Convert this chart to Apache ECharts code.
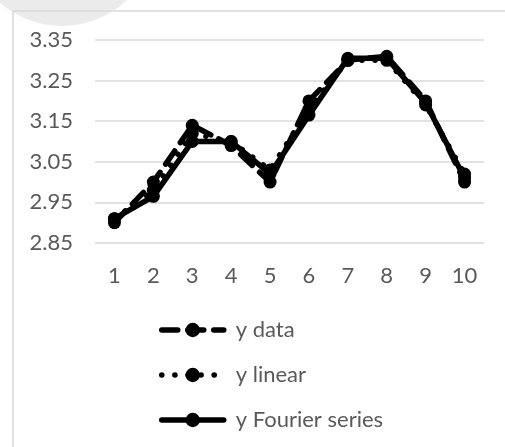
<!DOCTYPE html>
<html>
<head>
<meta charset="utf-8">
<script src="https://cdn.jsdelivr.net/npm/echarts@6/dist/echarts.min.js"></script>
<style>
html,body{margin:0;padding:0;background:#fff;}
#chart{width:505px;height:447px;}
</style>
</head>
<body>
<div id="chart"></div>
<script>
var categories = ['1','2','3','4','5','6','7','8','9','10'];
var yData    = [2.90, 3.00, 3.14, 3.09, 3.00, 3.20, 3.30, 3.31, 3.20, 3.00];
var yLinear  = [2.91, 2.98, 3.12, 3.10, 3.03, 3.18, 3.30, 3.30, 3.19, 3.02];
var yFourier = [2.91, 2.965, 3.10, 3.10, 3.02, 3.165, 3.305, 3.305, 3.195, 3.01];
var yTicks   = [2.85, 2.95, 3.05, 3.15, 3.25, 3.35];

var chart = echarts.init(document.getElementById('chart'));
var font = 'Lato';

function mkSeries(name, data, type) {
	return {
		name: name,
		type: 'line',
		data: data,
		symbol: 'circle',
		symbolSize: 13,
		itemStyle: { color: '#000' },
		lineStyle: { color: '#000', width: 5.5, type: type, cap: 'round' },
		emphasis: { disabled: true },
		animation: false
	};
}

var option = {
	backgroundColor: '#fff',
	graphic: [
		{ // grey blob top-left
			type: 'circle',
			shape: { cx: 62, cy: -68, r: 94 },
			style: { fill: '#ebebeb' },
			z: -10
		},
		{ // chart frame
			type: 'polyline',
			shape: { points: [[13, 447], [13, 11], [505, 11]] },
			style: { stroke: '#d9d9d9', lineWidth: 1.5, fill: null },
			z: -5
		}
	],
	grid: { left: 95, right: 21, top: 40, bottom: 204, containLabel: false },
	xAxis: {
		type: 'category',
		data: categories,
		boundaryGap: true,
		axisLine: { show: false },
		axisTick: { show: false },
		axisLabel: { color: '#595959', fontSize: 22, fontFamily: font, margin: 22 }
	},
	yAxis: {
		type: 'value',
		min: yTicks[0],
		max: yTicks[yTicks.length - 1],
		interval: 0.1,
		axisLine: { show: false },
		axisTick: { show: false },
		splitLine: { lineStyle: { color: '#d9d9d9', width: 1.5 } },
		axisLabel: {
			color: '#595959', fontSize: 22, fontFamily: font, margin: 22,
			formatter: function (v) { return v.toFixed(2); }
		}
	},
	legend: {
		orient: 'vertical',
		left: 154,
		top: 314,
		itemGap: 23,
		itemWidth: 62,
		itemHeight: 18,
		lineStyle: { width: 5.5, cap: 'round' },
		textStyle: { color: '#595959', fontSize: 22, fontFamily: font, padding: [0, 0, 0, 7] },
		data: ['y data', 'y linear', 'y Fourier series']
	},
	series: [
		mkSeries('y data', yData, [16, 10]),
		mkSeries('y linear', yLinear, [0.1, 13]),
		mkSeries('y Fourier series', yFourier, 'solid')
	]
};
chart.setOption(option);
</script>
</body>
</html>
